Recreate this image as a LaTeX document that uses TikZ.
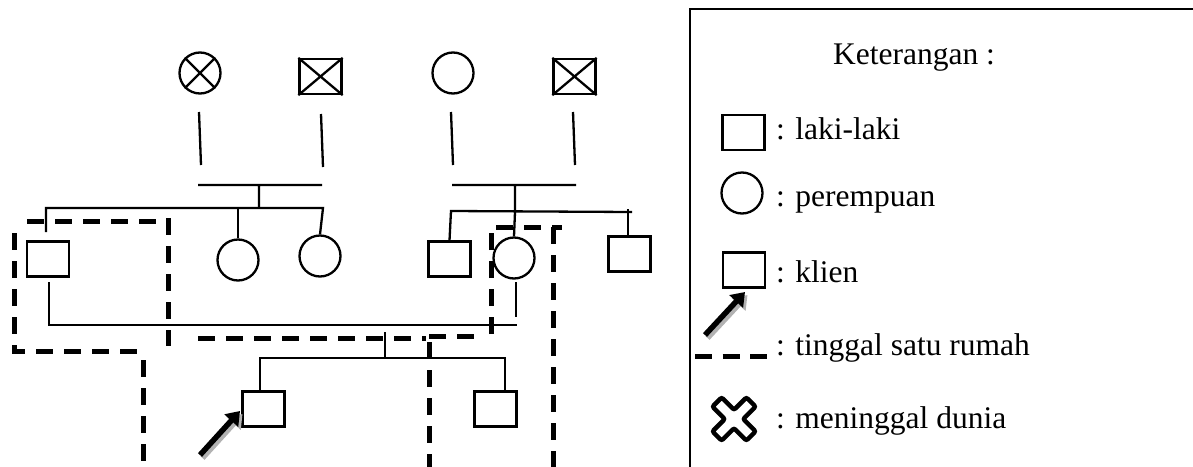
\documentclass[tikz,border=0pt]{standalone}
\usepackage{fontspec}
\setmainfont{Liberation Serif}
\usetikzlibrary{arrows.meta}
\tikzset{
  pline/.style={line width=2.3pt},
  house/.style={line width=5pt, dash pattern=on 17pt off 11pt},
  malebox/.style={draw, line width=2.3pt, rectangle, minimum width=42pt, minimum height=35pt, inner sep=0pt},
  femcirc/.style={draw, line width=2.3pt, circle, minimum size=41pt, inner sep=0pt},
  lbl/.style={font=\fontsize{31.5}{36}\selectfont, inner sep=0pt, anchor=base west},
  clientarrow/.style={line width=5.5pt, -{Triangle[length=13pt,width=18pt]}},
  shadowarrow/.style={clientarrow, gray!60},
}
\begin{document}
\begin{tikzpicture}[x=1pt,y=-1pt]
\useasboundingbox (0,0) rectangle (1193,466);
\clip (0,0) rectangle (1193,466);
% ---------- grandparents ----------
\node[femcirc] (g1) at (200,73) {};
\draw[pline] (g1.north east) -- (g1.south west) (g1.north west) -- (g1.south east);
\node[malebox] (g2) at (320.5,76.5) {};
\draw[pline] (g2.north east) -- (g2.south west) (g2.north west) -- (g2.south east);
\node[femcirc] (g3) at (453,73) {};
\node[malebox] (g4) at (574.5,76.5) {};
\draw[pline] (g4.north east) -- (g4.south west) (g4.north west) -- (g4.south east);
% ---------- second generation ----------
\node[malebox] (f) at (48,259) {};
\node[femcirc] (a1) at (238,260) {};
\node[femcirc] (a2) at (320,256) {};
\node[malebox] (u1) at (449.5,259) {};
\node[femcirc] (m) at (514,258) {};
\node[malebox] (u2) at (629.5,254) {};
% ---------- children ----------
\node[malebox] (k1) at (263.5,409) {};
\node[malebox] (k2) at (495.5,409) {};
% ---------- coordinates ----------
\coordinate (l1a) at (199,112); \coordinate (l1b) at (201,165);
\coordinate (l2a) at (321,114); \coordinate (l2b) at (323,167);
\coordinate (ma) at (198,185); \coordinate (mb) at (322,185);
\coordinate (cl) at (259,185); \coordinate (cld) at (259,208);
\coordinate (sl) at (46,208); \coordinate (sr) at (323,208);
\coordinate (l3a) at (451,112); \coordinate (l3b) at (453,165);
\coordinate (l4a) at (573,112); \coordinate (l4b) at (575,165);
\coordinate (mc) at (452,185); \coordinate (md) at (576,185);
\coordinate (cr) at (515,185); \coordinate (crd) at (515,212);
\coordinate (s2l) at (451,211); \coordinate (s2r) at (632,212);
\coordinate (fm) at (49,325); \coordinate (mm) at (517,325);
\coordinate (ct) at (385,332); \coordinate (cb) at (385,358);
\coordinate (kl) at (260,358); \coordinate (kr) at (505,358);
% ---------- pedigree lines ----------
\draw[pline] (l1a) -- (l1b) (l2a) -- (l2b) (ma) -- (mb) (cl) -- (cld);
\draw[pline] (46,232) -- (sl) -- (sr) -- (a2.north);
\draw[pline] (238,208) -- (a1.north);
\draw[pline] (l3a) -- (l3b) (l4a) -- (l4b) (mc) -- (md) (cr) -- (crd);
\draw[pline] (u1.north) -- (s2l) -- (s2r);
\draw[pline] (crd) -- (m.north);
\draw[pline] (628,209) -- (628,238);
\draw[pline] (49,282) -- (fm) -- (mm);
\draw[pline] (516,282) -- (516,317);
\draw[pline] (ct) -- (cb);
\draw[pline] (k1.north -| kl) -- (kl) -- (kr) -- (k2.north -| kr);
% ---------- living together (dashed) ----------
\draw[house] (27,221) -- (158,221);
\draw[house] (168,218) -- (168,346);
\draw[house] (14,233) -- (14,351) -- (140,351);
\draw[house] (143,360) -- (143,470);
\draw[house] (198,338) -- (426,338);
\draw[house] (429,336) -- (474,336);
\draw[house] (429,342) -- (429,470);
\draw[house] (491,334) -- (491,227) -- (562,227);
\draw[house] (553,227) -- (553,470);
% ---------- client arrow ----------
\coordinate (at) at (200,455); \coordinate (ah) at (240,411);
\draw[shadowarrow] ([shift={(2.5,3)}]at) -- ([shift={(2.5,3)}]ah);
\draw[clientarrow] (at) -- (ah);
% ---------- legend ----------
\draw[line width=2pt] (690,480) -- (690,9) -- (1200,9);
\node[lbl, anchor=base] (kt) at (914,64) {Keterangan :};
\node[malebox] (lsq) at (743.5,132.5) {};
\node[lbl] (t1) at (776,139) {: laki-laki};
\node[femcirc] (lci) at (742,193) {};
\node[lbl] (t2) at (776,206) {: perempuan};
\node[malebox] (lkl) at (744,270) {};
\node[lbl] (t3) at (776,282) {: klien};
\coordinate (lat) at (705,335); \coordinate (lah) at (745,292);
\draw[shadowarrow] ([shift={(2.5,3)}]lat) -- ([shift={(2.5,3)}]lah);
\draw[clientarrow] (lat) -- (lah);
\coordinate (d1) at (695,356); \coordinate (d2) at (767,356);
\draw[house, dash pattern=on 17pt off 10.5pt] (d1) -- (d2);
\node[lbl] (t4) at (776,355) {: tinggal satu rumah};
\begin{scope}[shift={(734,419)}, rotate=45]
\draw[line width=4.5pt, rounded corners=2pt]
  (-6.5,24) -- (6.5,24) -- (6.5,6.5) -- (24,6.5) -- (24,-6.5) -- (6.5,-6.5) -- (6.5,-24)
  -- (-6.5,-24) -- (-6.5,-6.5) -- (-24,-6.5) -- (-24,6.5) -- (-6.5,6.5) -- cycle;
\end{scope}
\node[lbl] (t5) at (776,428) {: meninggal dunia};
\end{tikzpicture}
\end{document}
